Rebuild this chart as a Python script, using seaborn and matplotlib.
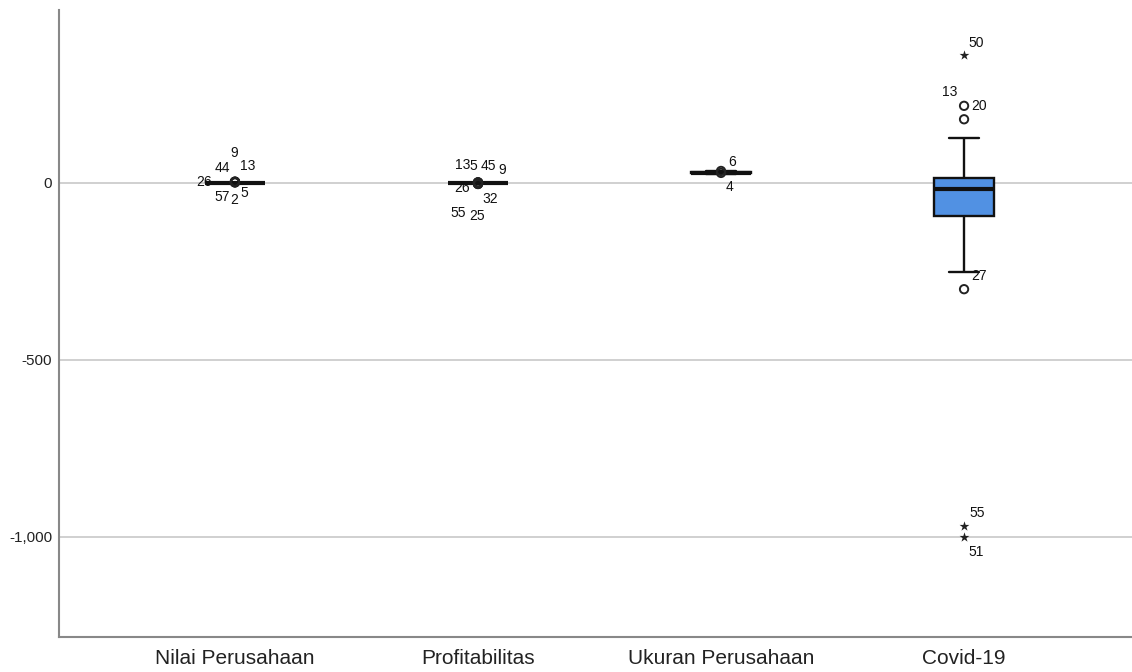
import numpy as np
import pandas as pd
import matplotlib
matplotlib.use("Agg")
import matplotlib.pyplot as plt
from matplotlib.ticker import FuncFormatter
import seaborn as sns

# Variables on the x axis
categories = ["Nilai Perusahaan", "Profitabilitas", "Ukuran Perusahaan", "Covid-19"]

# Values inside the whiskers for each variable
nilai_values = [-0.6, -0.3, 0.0, 0.3, 0.6]
profit_values = [-1.2, -0.5, 0.0, 0.4, 1.0]
ukuran_values = [25.5, 28.0, 29.0, 30.0, 32.5]
covid_values = [-252, -150, -92, -50, -18, -5, 13, 60, 126]

# Outlying cases: variable, case number, value, kind ("o" outlier, "*" extreme)
outlier_group = ["Nilai Perusahaan"] * 7 + ["Profitabilitas"] * 8 + \
                ["Ukuran Perusahaan"] * 2 + ["Covid-19"] * 6
outlier_case = ["9", "44", "13", "26", "57", "2", "5",
                "13", "5", "45", "9", "26", "32", "55", "25",
                "6", "4",
                "50", "20", "13", "27", "55", "51"]
outlier_value = [4, 3, 3.5, 2, 2.5, 1.5, 3,
                 1.5, 1, 2, 1.2, -1.5, -2, -2.5, -3,
                 34, 28.5,
                 362, 218, 180, -300, -969, -1000]
outlier_kind = ["o"] * 17 + ["*", "o", "o", "o", "*", "*"]

# Where each case label sits around its marker (pixels)
label_offsets = [(-1, 29), (-13, 14), (13, 16), (-31, 0), (-13, -15), (-1, -18), (9, -11),
                 (-15, 17), (-5, 17), (10, 16), (24, 13), (-16, -4), (12, -15), (-20, -29), (-1, -32),
                 (11, 9), (8, -14),
                 (12, 12), (15, 0), (-14, 27), (15, 13), (13, 13), (12, -15)]

sns.set_theme(style="white")
plt.rcParams["font.family"] = ["Liberation Sans", "DejaVu Sans"]
plt.rcParams["axes.unicode_minus"] = False

box_color = "#5191E3"

groups = [nilai_values, profit_values, ukuran_values, covid_values]
df = pd.DataFrame({
    "variable": np.repeat(categories, [len(g) for g in groups]),
    "value": np.concatenate([np.asarray(g, dtype=float) for g in groups]),
})

fig = plt.figure(figsize=(11.32, 6.72), dpi=100)
ax = fig.add_axes([59 / 1132, 1 - 637 / 672, 1 - 59 / 1132, (637 - 10) / 672])

sns.boxplot(data=df, x="variable", y="value", order=categories, color=box_color,
            width=0.25, whis=(0, 100), showfliers=False, linecolor="#111111",
            linewidth=1.7, medianprops=dict(linewidth=3, color="#111111"),
            saturation=1, ax=ax)

# Outlying cases with their case numbers
for grp, case, val, kind, (dx, dy) in zip(outlier_group, outlier_case, outlier_value,
                                           outlier_kind, label_offsets):
    xpos = categories.index(grp)
    if kind == "o":
        ax.scatter([xpos], [val], s=36, facecolors="none", edgecolors="#222222",
                   linewidths=1.4, zorder=4)
    else:
        ax.scatter([xpos], [val], s=55, marker="*", color="#222222",
                   linewidths=0, zorder=4)
    ax.annotate(case, (xpos, val), xytext=(dx, dy), textcoords="offset pixels",
                ha="center", va="center", fontsize=10, color="#111111", zorder=1.5)

ax.set_xlim(-0.724, 3.691)
ax.set_ylim(-1282.5, 488.7)
ax.set_yticks([-1000, -500, 0])
ax.yaxis.set_major_formatter(FuncFormatter(lambda v, p: f"{v:,.0f}"))
ax.set_xlabel("")
ax.set_ylabel("")

ax.yaxis.grid(True, color="#c8c8c8", linewidth=1.2)
ax.xaxis.grid(False)
ax.set_axisbelow(True)

for side in ["top", "right"]:
    ax.spines[side].set_visible(False)
for side in ["left", "bottom"]:
    ax.spines[side].set_color("#888888")
    ax.spines[side].set_linewidth(1.5)

ax.tick_params(axis="y", length=0, pad=5, labelsize=11, labelcolor="#222222")
ax.tick_params(axis="x", length=0, pad=9, labelsize=15, labelcolor="#222222")

fig.savefig("out.png", dpi=100, facecolor="white")
